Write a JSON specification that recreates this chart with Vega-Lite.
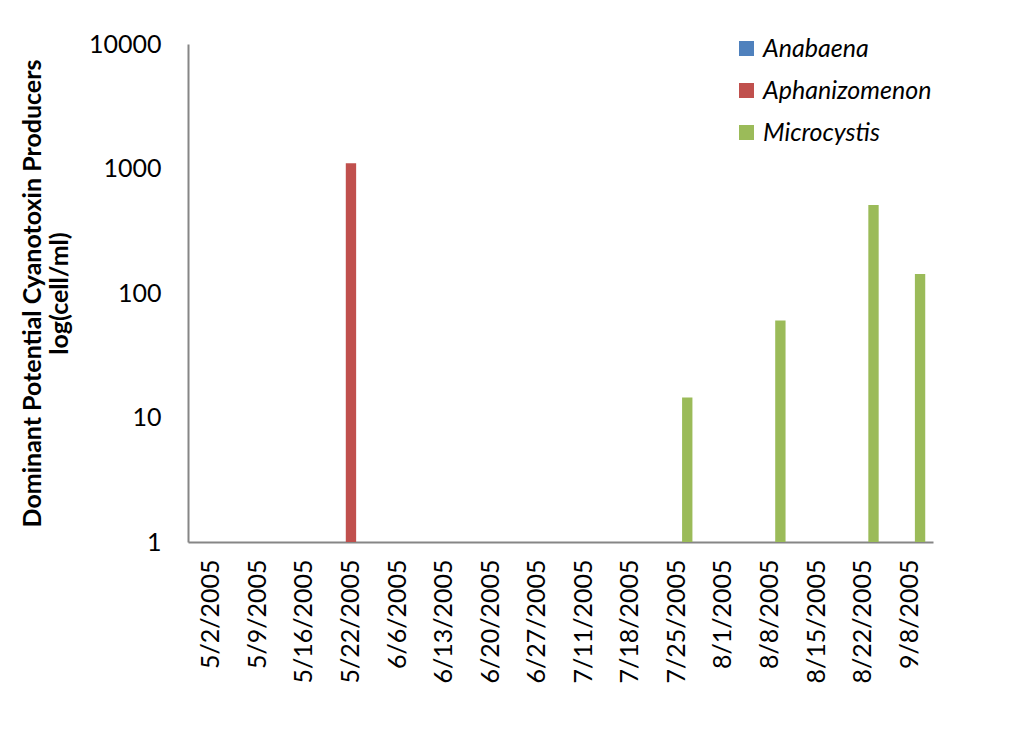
{
  "$schema": "https://vega.github.io/schema/vega-lite/v6.json",
  "width": 745,
  "height": 498,
  "padding": {"left": 20, "top": 32, "right": 5, "bottom": 5},
  "background": "white",
  "config": {"view": {"stroke": null}, "font": "Lato"},
  "data": {
    "values": [
      {"date": "5/22/2005", "series": "Aphanizomenon", "value": 1100},
      {"date": "7/25/2005", "series": "Microcystis", "value": 14.5},
      {"date": "8/8/2005", "series": "Microcystis", "value": 60},
      {"date": "8/22/2005", "series": "Microcystis", "value": 510},
      {"date": "9/8/2005", "series": "Microcystis", "value": 142}
    ]
  },
  "mark": {"type": "bar"},
  "encoding": {
    "x": {
      "field": "date",
      "type": "nominal",
      "sort": null,
      "scale": {
        "domain": ["5/2/2005", "5/9/2005", "5/16/2005", "5/22/2005", "6/6/2005", "6/13/2005", "6/20/2005", "6/27/2005", "7/11/2005", "7/18/2005", "7/25/2005", "8/1/2005", "8/8/2005", "8/15/2005", "8/22/2005", "9/8/2005"],
        "paddingInner": 0,
        "paddingOuter": 0
      },
      "axis": {
        "title": null,
        "labelAngle": -90,
        "labelAlign": "right",
        "labelBaseline": "middle",
        "labelFont": "Lato",
        "labelFontSize": 25,
        "labelColor": "black",
        "labelPadding": 17,
        "ticks": false,
        "domainColor": "#868686",
        "domainWidth": 2,
        "grid": false
      }
    },
    "xOffset": {
      "field": "series",
      "type": "nominal",
      "scale": {"domain": ["Anabaena", "Aphanizomenon", "Microcystis"], "paddingInner": 0, "paddingOuter": 0.75}
    },
    "y": {
      "field": "value",
      "type": "quantitative",
      "stack": null,
      "scale": {"type": "log", "domain": [1, 10000], "nice": false},
      "axis": {
        "title": ["Dominant Potential Cyanotoxin  Producers", "log(cell/ml)"],
        "titleFont": "Lato",
        "titleFontSize": 25,
        "titleFontWeight": "bold",
        "titleColor": "black",
        "titlePadding": 16,
        "titleLineHeight": 27,
        "values": [1, 10, 100, 1000, 10000],
        "format": "d",
        "labelFont": "Lato",
        "labelFontSize": 25,
        "labelColor": "black",
        "labelPadding": 27,
        "ticks": false,
        "grid": false,
        "domainColor": "#868686",
        "domainWidth": 2
      }
    },
    "color": {
      "field": "series",
      "type": "nominal",
      "scale": {"domain": ["Anabaena", "Aphanizomenon", "Microcystis"], "range": ["#4F81BD", "#C0504D", "#9BBB59"]},
      "legend": {
        "title": null,
        "orient": "none",
        "legendX": 546,
        "legendY": -8,
        "padding": 0,
        "symbolType": "square",
        "symbolSize": 225,
        "symbolStrokeWidth": 0,
        "labelFont": "Lato",
        "labelFontStyle": "italic",
        "labelFontSize": 25,
        "labelColor": "black",
        "labelOffset": 4,
        "labelLimit": 400,
        "rowPadding": 16
      }
    }
  }
}
